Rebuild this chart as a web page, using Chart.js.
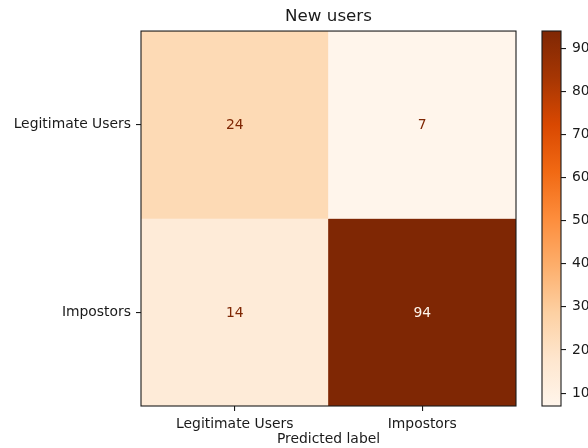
<!DOCTYPE html>
<html>
<head>
<meta charset="utf-8">
<script src="https://cdn.jsdelivr.net/npm/chart.js@4"></script>
<style>
  html, body { margin: 0; padding: 0; background: #fff; }
  #wrap { position: relative; width: 588px; height: 448px; }
  #wrap canvas { position: absolute; top: 0; }
</style>
</head>
<body>
<div id="wrap">
  <canvas id="cm" width="588" height="448" style="left:0"></canvas>
  <canvas id="cb" width="58" height="448" style="left:530px"></canvas>
</div>
<script>
// Confusion matrix: rows are true labels, columns are predicted labels
const classLabels = ['Legitimate Users', 'Impostors'];
const rowLegitimate = [24, 7];
const rowImpostors = [14, 94];
const matrixRows = [rowLegitimate, rowImpostors];

// Colour bar
const colorRange = [7, 94];
const colorbarTicks = [10, 20, 30, 40, 50, 60, 70, 80, 90];

const titleText = 'New users';
const xAxisTitle = 'Predicted label';

// "Oranges" sequential palette stops
const oranges = ['#fff5eb', '#fee6ce', '#fdd0a2', '#fdae6b', '#fd8d3c', '#f16913', '#d94801', '#a63603', '#7f2704'];

function hexToRgb(h) {
  return [parseInt(h.slice(1, 3), 16), parseInt(h.slice(3, 5), 16), parseInt(h.slice(5, 7), 16)];
}
function colorFor(v) {
  let t = (v - colorRange[0]) / (colorRange[1] - colorRange[0]);
  t = Math.min(1, Math.max(0, t));
  const pos = t * (oranges.length - 1);
  const i = Math.min(oranges.length - 2, Math.floor(pos));
  const f = pos - i;
  const a = hexToRgb(oranges[i]), b = hexToRgb(oranges[i + 1]);
  const c = a.map((x, k) => Math.round(x + (b[k] - x) * f));
  return `rgb(${c[0]},${c[1]},${c[2]})`;
}
const threshold = (colorRange[0] + colorRange[1]) / 2;

const FONT = 'DejaVu Sans';
const TICK_SIZE = 13.9;
const INK = '#1a1a1a';

Chart.defaults.font.family = FONT;
Chart.defaults.font.size = TICK_SIZE;
Chart.defaults.color = INK;

// Frame around the plotting area
const framePlugin = {
  id: 'frame',
  afterDatasetsDraw(chart) {
    const { ctx, chartArea: a } = chart;
    ctx.save();
    ctx.strokeStyle = INK;
    ctx.lineWidth = 1.1;
    ctx.strokeRect(a.left, a.top, a.right - a.left, a.bottom - a.top);
    ctx.restore();
  }
};

// Count written in the middle of each cell
const cellTextPlugin = {
  id: 'cellText',
  afterDatasetsDraw(chart) {
    const { ctx, scales } = chart;
    ctx.save();
    ctx.font = `${TICK_SIZE}px "${FONT}"`;
    ctx.textAlign = 'center';
    ctx.textBaseline = 'middle';
    matrixRows.forEach((row, r) => {
      row.forEach((v, c) => {
        ctx.fillStyle = v < threshold ? oranges[oranges.length - 1] : oranges[0];
        ctx.fillText(String(v), scales.x.getPixelForValue(c), scales.y.getPixelForValue(r + 0.5) + 1);
      });
    });
    ctx.restore();
  }
};

const tickGrid = {
  display: true,
  drawOnChartArea: false,
  drawTicks: true,
  tickLength: 5,
  color: INK,
  lineWidth: 1.1
};

new Chart(document.getElementById('cm'), {
  type: 'bar',
  data: {
    labels: classLabels,
    datasets: matrixRows.map((row, r) => ({
      data: row.map(() => [r, r + 1]),
      backgroundColor: row.map(colorFor),
      borderWidth: 0,
      grouped: false,
      barPercentage: 1,
      categoryPercentage: 1
    }))
  },
  options: {
    responsive: false,
    animation: false,
    devicePixelRatio: 1,
    layout: { padding: { left: 0, right: 72, top: 0, bottom: 0 } },
    plugins: {
      legend: { display: false },
      tooltip: { enabled: false },
      title: {
        display: true,
        text: titleText,
        fullSize: false,
        color: INK,
        font: { size: 16.7, weight: 'normal', family: FONT, lineHeight: 1.2 },
        padding: { top: 7, bottom: 4 }
      }
    },
    scales: {
      x: {
        type: 'category',
        offset: true,
        grid: Object.assign({ offset: false }, tickGrid),
        border: { display: false },
        ticks: { padding: 5, color: INK, maxRotation: 0, autoSkip: false },
        title: { display: true, text: xAxisTitle, color: INK, padding: { top: 0, bottom: 0 } },
        afterFit(s) { s.height = 42; }
      },
      y: {
        type: 'linear',
        min: 0,
        max: matrixRows.length,
        reverse: true,
        grid: tickGrid,
        border: { display: false },
        ticks: {
          padding: 5,
          color: INK,
          autoSkip: false,
          callback: (v) => classLabels[Math.floor(v)]
        },
        afterBuildTicks(s) { s.ticks = classLabels.map((_, i) => ({ value: i + 0.5 })); },
        afterFit(s) { s.width = 141; }
      }
    }
  },
  plugins: [cellTextPlugin, framePlugin]
});

// Colour bar drawn as one floating bar filled with the palette gradient
new Chart(document.getElementById('cb'), {
  type: 'bar',
  data: {
    labels: [''],
    datasets: [{
      data: [colorRange],
      borderWidth: 0,
      barPercentage: 1,
      categoryPercentage: 1,
      backgroundColor(context) {
        const chart = context.chart;
        if (!chart.chartArea) return oranges[0];
        const y = chart.scales.y;
        const g = chart.ctx.createLinearGradient(0, y.getPixelForValue(colorRange[0]), 0, y.getPixelForValue(colorRange[1]));
        oranges.forEach((c, i) => g.addColorStop(i / (oranges.length - 1), c));
        return g;
      }
    }]
  },
  options: {
    responsive: false,
    animation: false,
    devicePixelRatio: 1,
    layout: { padding: { left: 12, right: 0, top: 31, bottom: 42 } },
    plugins: { legend: { display: false }, tooltip: { enabled: false } },
    scales: {
      x: { display: false, offset: true },
      y: {
        type: 'linear',
        position: 'right',
        min: colorRange[0],
        max: colorRange[1],
        grid: tickGrid,
        border: { display: false },
        ticks: { padding: 6, color: INK },
        afterBuildTicks(s) { s.ticks = colorbarTicks.map((v) => ({ value: v })); },
        afterFit(s) { s.width = 27; }
      }
    }
  },
  plugins: [framePlugin]
});
</script>
</body>
</html>
